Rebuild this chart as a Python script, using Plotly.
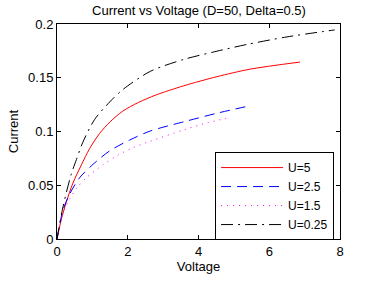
import plotly.graph_objects as go

v_u5 = [0, 0.12, 0.26, 0.45, 0.69, 0.92, 1.2, 1.5, 1.86, 2.3, 2.8, 3.58, 4.52, 5.46, 6.87]
i_u5 = [0, 0.018, 0.034, 0.052, 0.069, 0.084, 0.098, 0.109, 0.119, 0.127, 0.134, 0.1425, 0.151, 0.158, 0.1646]

v_u25 = [0, 0.17, 0.36, 0.64, 1.02, 1.49, 2.05, 2.64, 3.58, 4.52, 5.46]
i_u25 = [0, 0.027, 0.042, 0.057, 0.0695, 0.082, 0.092, 0.1005, 0.109, 0.117, 0.124]

v_u15 = [0, 0.17, 0.31, 0.55, 0.83, 1.30, 1.72, 2.15, 2.64, 3.58, 4.24, 4.88]
i_u15 = [0, 0.024, 0.0345, 0.047, 0.057, 0.069, 0.078, 0.085, 0.091, 0.1015, 0.108, 0.113]

v_u025 = [0, 0.17, 0.40, 0.55, 0.73, 1.06, 1.49, 1.86, 2.64, 3.58, 4.52, 5.37, 6.5, 7.85]
i_u025 = [0, 0.030, 0.060, 0.074, 0.090, 0.111, 0.1275, 0.139, 0.156, 0.167, 0.1747, 0.181, 0.188, 0.1945]

labels = ["U=5", "U=2.5", "U=1.5", "U=0.25"]

fig = go.Figure()
fig.add_trace(go.Scatter(x=v_u5, y=i_u5, mode="lines", name=labels[0],
                         line=dict(color="#ff0000", width=1, shape="spline", smoothing=0.8)))
fig.add_trace(go.Scatter(x=v_u25, y=i_u25, mode="lines", name=labels[1],
                         line=dict(color="#0000ff", width=1, dash="10px,6px", shape="spline", smoothing=0.8)))
fig.add_trace(go.Scatter(x=v_u15, y=i_u15, mode="lines", name=labels[2],
                         line=dict(color="#ff00ff", width=1, dash="1px,5px", shape="spline", smoothing=0.8)))
fig.add_trace(go.Scatter(x=v_u025, y=i_u025, mode="lines", name=labels[3],
                         line=dict(color="#000000", width=1, dash="12px,5px,2px,5px", shape="spline", smoothing=0.8)))

axis_common = dict(showgrid=False, zeroline=False, showline=True, linecolor="black",
                   linewidth=1, mirror="ticks", ticks="inside", ticklen=4,
                   tickcolor="black", tickfont=dict(size=13, color="black"))

fig.update_layout(
    width=374, height=282,
    margin=dict(l=57, r=34, t=24, b=39),
    paper_bgcolor="white", plot_bgcolor="white",
    font=dict(family="Liberation Sans, Arial, sans-serif", size=13, color="black"),
    title=dict(text="Current vs Voltage (D=50, Delta=0.5)", x=0.532, xanchor="center",
               y=1 - 10 / 282, yanchor="middle", font=dict(size=13, color="black")),
    xaxis=dict(range=[0, 8], tickvals=[0, 2, 4, 6, 8], title=dict(text="Voltage", standoff=2,
               font=dict(size=13)), **axis_common),
    yaxis=dict(range=[0, 0.2], tickvals=[0, 0.05, 0.1, 0.15, 0.2],
               ticktext=["0", "0.05", "0.1", "0.15", "0.2"],
               title=dict(text="Current", standoff=6, font=dict(size=13)), **axis_common),
    legend=dict(x=0.979, y=-0.005, xanchor="right", yanchor="bottom",
                bgcolor="white", bordercolor="black", borderwidth=1,
                font=dict(size=12), tracegroupgap=0, itemwidth=62),
    showlegend=True,
)

fig.write_html("out.html", config={"displayModeBar": False},
               post_script="document.body.style.margin='0';")
